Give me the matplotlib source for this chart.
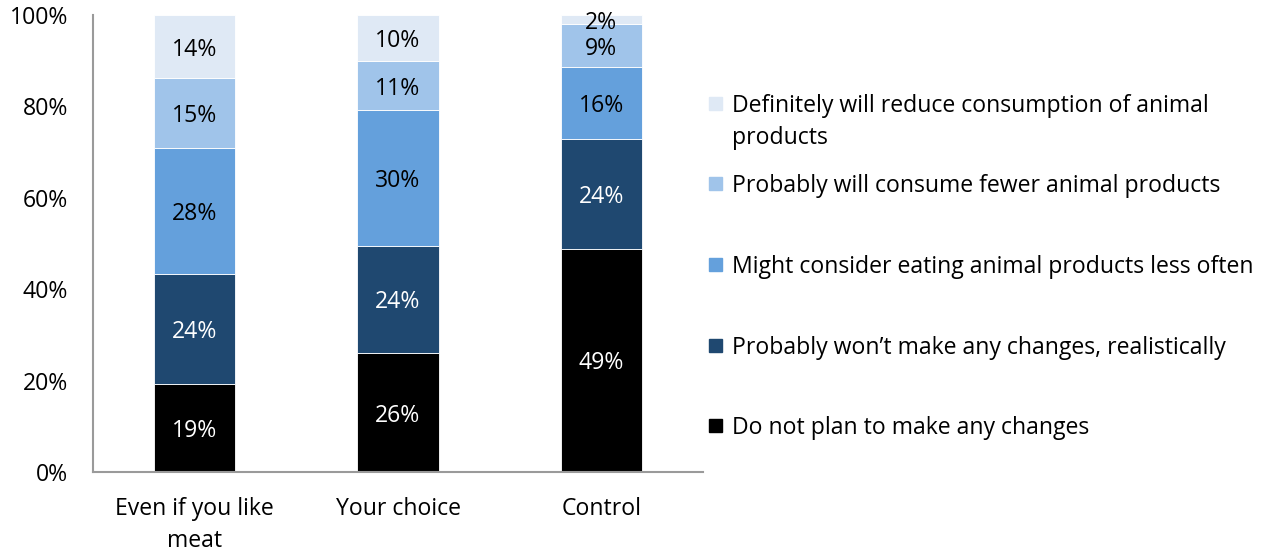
import matplotlib
matplotlib.use("Agg")
import matplotlib.pyplot as plt
from matplotlib.patches import Rectangle

plt.rcParams['font.family'] = ['Open Sans', 'DejaVu Sans']

categories = ["Even if you like\nmeat", "Your choice", "Control"]
series_names = [
    "Do not plan to make any changes",
    "Probably won\u2019t make any changes, realistically",
    "Might consider eating animal products less often",
    "Probably will consume fewer animal products",
    "Definitely will reduce consumption of animal\nproducts",
]
# share of respondents (%) per response, bottom to top
do_not_plan = [19.3, 26.0, 48.8]
probably_wont = [24.0, 23.5, 24.1]
might_consider = [27.6, 29.7, 15.7]
probably_fewer = [15.3, 10.7, 9.4]
definitely_reduce = [13.8, 10.1, 2.0]
series_values = [do_not_plan, probably_wont, might_consider, probably_fewer, definitely_reduce]

colors = ["#000000", "#1F4870", "#64A0DC", "#A0C4EA", "#DFE9F5"]
text_colors = ["white", "white", "black", "black", "black"]
FS = 16.6

fig = plt.figure(figsize=(12.72, 5.54), dpi=100)
ax = fig.add_axes([93 / 1272, 82 / 554, 610 / 1272, 457 / 554])

x = list(range(len(categories)))
bottoms = [0.0] * len(categories)
for vals, col, tcol in zip(series_values, colors, text_colors):
    ax.bar(x, vals, width=0.4, bottom=bottoms, color=col, edgecolor="white", linewidth=0.6)
    for xi, v, b in zip(x, vals, bottoms):
        ax.text(xi, b + v / 2, f"{v:.0f}%", ha="center", va="center_baseline",
                color=tcol, fontsize=FS)
    bottoms = [b + v for b, v in zip(bottoms, vals)]

ax.set_xlim(-0.5, 2.5)
ax.set_ylim(0, 100)
ax.set_yticks([0, 20, 40, 60, 80, 100])
ax.set_yticklabels([f"{t}%" for t in [0, 20, 40, 60, 80, 100]])
ax.set_xticks(x)
ax.set_xticklabels(categories, linespacing=1.45)
ax.tick_params(axis="both", length=0, labelsize=FS, colors="black")
ax.tick_params(axis="y", pad=18)
ax.tick_params(axis="x", pad=18)
for side in ["top", "right"]:
    ax.spines[side].set_visible(False)
for side in ["left", "bottom"]:
    ax.spines[side].set_color("#9A9A9A")
    ax.spines[side].set_linewidth(1.5)

# legend, top entry first; each text line placed on its own baseline
legend_y = [104, 184, 265, 346, 426]
line_step = 32
for name, col, yc in zip(reversed(series_names), reversed(colors), legend_y):
    fig.add_artist(Rectangle((709 / 1272, 1 - (yc + 6) / 554), 13 / 1272, 13 / 554,
                             transform=fig.transFigure, color=col))
    for i, line in enumerate(name.split("\n")):
        fig.text(732 / 1272, 1 - (yc + 8 + i * line_step) / 554, line,
                 ha="left", va="baseline", fontsize=FS)

fig.savefig("out.png", dpi=100)
